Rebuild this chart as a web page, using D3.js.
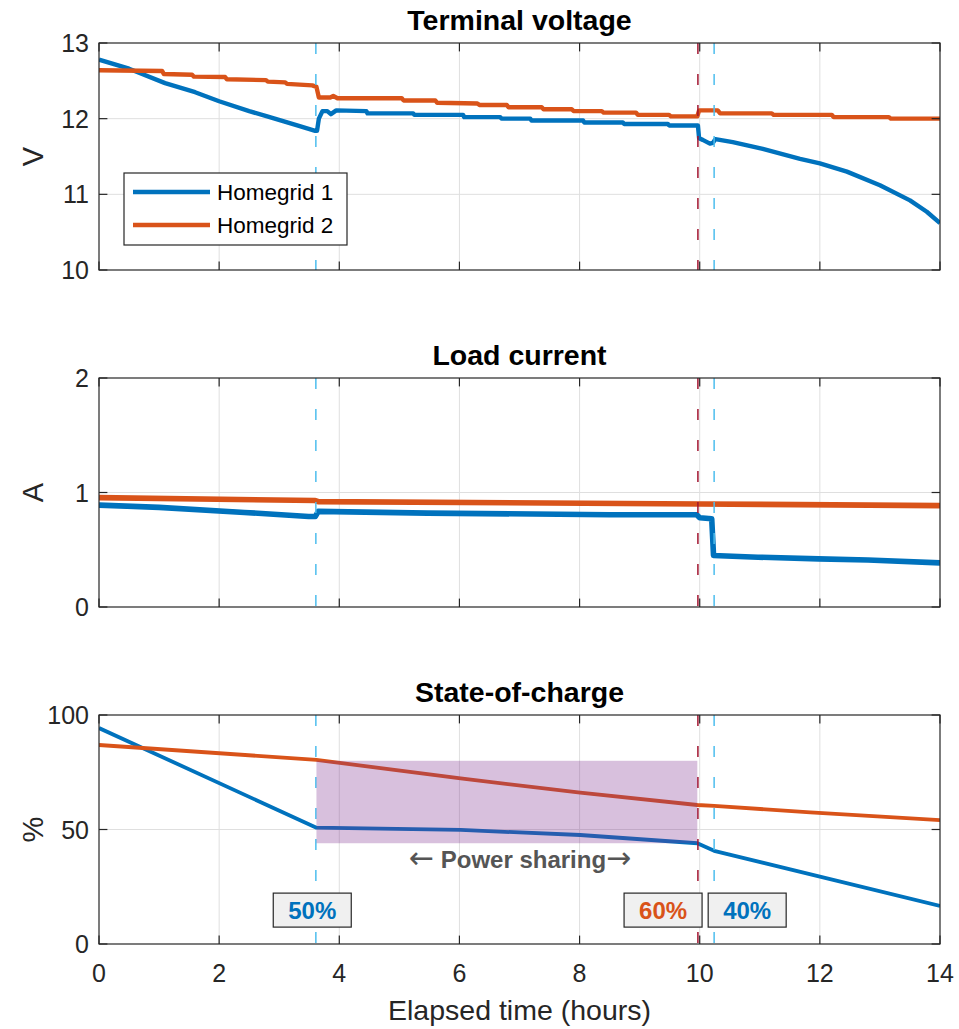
<!DOCTYPE html>
<html>
<head>
<meta charset="utf-8">
<script src="https://cdn.jsdelivr.net/npm/d3@7"></script>
<style>
  body { margin: 0; background: #fff; }
  text { font-family: "Liberation Sans", Arial, Helvetica, sans-serif; fill: #262626; }
</style>
</head>
<body>
<div id="main"></div>
<script>
// data (hours, value)

const voltage1 = [[0,12.78],[0.5,12.66],[1.1,12.47],[1.6,12.35],[2.0,12.23],[2.5,12.1],[2.8,12.03],[3.3,11.91],[3.6,11.84],[3.63,11.84],
  [3.66,12.0],[3.72,12.1],[3.8,12.1],[3.86,12.06],[3.95,12.11],[4.45,12.1],[4.47,12.07],[5.23,12.07],[5.25,12.05],[6.06,12.05],
  [6.08,12.02],[6.68,12.02],[6.7,12.0],[7.18,12.0],[7.2,11.975],[8.06,11.975],[8.08,11.95],[8.72,11.95],[8.74,11.93],[9.47,11.93],
  [9.49,11.91],[9.97,11.91],[9.99,11.74],[10.05,11.72],[10.17,11.67],[10.22,11.68],[10.26,11.73],[10.55,11.69],[11.05,11.6],
  [11.67,11.47],[12.0,11.41],[12.45,11.3],[13.0,11.12],[13.5,10.92],[13.78,10.77],[14,10.62]];

const voltage2 = [[0,12.64],[1.05,12.63],[1.08,12.59],[1.55,12.58],[1.58,12.555],[2.1,12.55],[2.13,12.52],[2.78,12.51],[2.81,12.49],
  [3.1,12.48],[3.13,12.46],[3.55,12.44],[3.62,12.42],[3.66,12.28],[3.85,12.28],[3.9,12.3],[3.97,12.27],[5.04,12.27],[5.07,12.24],
  [5.6,12.24],[5.63,12.21],[6.3,12.2],[6.34,12.18],[6.79,12.18],[6.82,12.15],[7.37,12.15],[7.4,12.125],[7.87,12.125],[7.9,12.1],
  [8.37,12.1],[8.4,12.08],[8.94,12.08],[8.97,12.05],[9.49,12.05],[9.52,12.03],[9.96,12.03],[9.99,12.11],[10.3,12.11],[10.34,12.07],
  [11.2,12.07],[11.23,12.05],[12.2,12.05],[12.23,12.02],[13.15,12.02],[13.18,12.0],[14,12.0]];

const current1 = [[0,0.89],[1.0,0.87],[2.42,0.826],[3.49,0.79],[3.6,0.79],[3.65,0.835],[5.47,0.82],[8.5,0.806],[9.95,0.806],
  [10.0,0.78],[10.2,0.77],[10.23,0.45],[10.97,0.435],[11.98,0.42],[12.8,0.41],[14,0.385]];

const current2 = [[0,0.955],[3.6,0.93],[3.65,0.92],[10,0.9],[14,0.885]];

const soc1 = [[0,94.3],[3.62,50.8],[6.02,49.8],[8.01,47.6],[9.96,44.0],[10.24,40.7],[14,16.6]];
const soc2 = [[0,86.9],[3.62,80.4],[6.02,72.3],[8.01,66.1],[9.96,60.7],[10.24,60.3],[11.84,57.5],[14,54.1]];

const cyanEvents = [3.61, 10.24];
const redEvents = [9.97];
const sharing = { x0: 3.62, x1: 9.96, y0: 44, y1: 80 };
const socLabels = [{ t: '50%', x: 3.55, y: 14.8, c: 'b' }, { t: '60%', x: 9.39, y: 14.8, c: 'o' }, { t: '40%', x: 10.79, y: 14.8, c: 'b' }];

const xTicks = [0, 2, 4, 6, 8, 10, 12, 14];
const legendNames = ['Homegrid 1', 'Homegrid 2'];

// colors
const blue = '#0072BD';
const orange = '#D95319';
const cyan = '#4DBEEE';
const darkred = '#A2142F';
const axisColor = '#262626';

const W = 959, H = 1029;
const left = 99, right = 940;

const panels = [
  { title: 'Terminal voltage', ylab: 'V', top: 43, bottom: 270, dom: [10, 13], ticks: [10, 11, 12, 13], s1: voltage1, s2: voltage2, lw: 4.4 },
  { title: 'Load current', ylab: 'A', top: 378, bottom: 607, dom: [0, 2], ticks: [0, 1, 2], s1: current1, s2: current2, lw: 5.6 },
  { title: 'State-of-charge', ylab: '%', top: 715, bottom: 944, dom: [0, 100], ticks: [0, 50, 100], s1: soc1, s2: soc2, lw: 3.8 }
];

const svg = d3.select('#main').append('svg')
  .attr('width', W).attr('height', H);

const x = d3.scaleLinear().domain([0, 14]).range([left, right]);

panels.forEach((p, i) => {
  const y = d3.scaleLinear().domain(p.dom).range([p.bottom, p.top]);
  const g = svg.append('g');

  g.append('clipPath').attr('id', 'clip' + i)
    .append('rect').attr('x', left).attr('y', p.top).attr('width', right - left).attr('height', p.bottom - p.top);

  // grid
  g.selectAll('.gx').data(xTicks.slice(1, -1)).enter().append('line')
    .attr('x1', d => x(d)).attr('x2', d => x(d)).attr('y1', p.top).attr('y2', p.bottom)
    .attr('stroke', '#dfdfdf').attr('stroke-width', 1);
  g.selectAll('.gy').data(p.ticks.slice(1, -1)).enter().append('line')
    .attr('x1', left).attr('x2', right).attr('y1', d => y(d)).attr('y2', d => y(d))
    .attr('stroke', '#dfdfdf').attr('stroke-width', 1);

  const line = d3.line().x(d => x(d[0])).y(d => y(d[1]));
  const plot = g.append('g').attr('clip-path', `url(#clip${i})`);

  plot.append('path').datum(p.s1).attr('d', line)
    .attr('fill', 'none').attr('stroke', blue).attr('stroke-width', p.lw).attr('stroke-linejoin', 'round');
  plot.append('path').datum(p.s2).attr('d', line)
    .attr('fill', 'none').attr('stroke', orange).attr('stroke-width', p.lw).attr('stroke-linejoin', 'round');

  // event lines
  plot.selectAll('.ce').data(cyanEvents).enter().append('line')
    .attr('x1', d => x(d)).attr('x2', d => x(d)).attr('y1', p.top).attr('y2', p.bottom)
    .attr('stroke', cyan).attr('stroke-width', 1.5).attr('stroke-dasharray', '11,20');
  plot.selectAll('.re').data(redEvents).enter().append('line')
    .attr('x1', d => x(d)).attr('x2', d => x(d)).attr('y1', p.top).attr('y2', p.bottom)
    .attr('stroke', darkred).attr('stroke-width', 1.5).attr('stroke-dasharray', '11,20');

  if (i === 2) {
    plot.append('rect')
      .attr('x', x(sharing.x0)).attr('y', y(sharing.y1))
      .attr('width', x(sharing.x1) - x(sharing.x0)).attr('height', y(sharing.y0) - y(sharing.y1))
      .attr('fill', '#7E2F8E').attr('fill-opacity', 0.3);

    const ps = g.append('text').attr('x', x(7.01)).attr('y', y(36.7) + 8)
      .attr('text-anchor', 'middle').style('font-size', '24px').style('fill', '#555555');
    ps.append('tspan').style('font-size', '30px').style('font-family', 'DejaVu Sans').text('\u2190');
    ps.append('tspan').style('font-weight', 'bold').text(' Power sharing');
    ps.append('tspan').style('font-size', '30px').style('font-family', 'DejaVu Sans').text('\u2192');

    const lab = g.selectAll('.lab').data(socLabels).enter().append('g')
      .attr('transform', d => `translate(${x(d.x)},${y(d.y)})`);
    lab.append('rect').attr('x', -39).attr('y', -17).attr('width', 78).attr('height', 34)
      .attr('fill', '#f0f0f0').attr('stroke', axisColor).attr('stroke-width', 1.2);
    lab.append('text').attr('text-anchor', 'middle').attr('y', 9)
      .style('font-size', '24px').style('font-weight', 'bold')
      .style('fill', d => d.c === 'b' ? blue : orange)
      .text(d => d.t);
  }

  // box + ticks
  g.append('rect').attr('x', left).attr('y', p.top).attr('width', right - left).attr('height', p.bottom - p.top)
    .attr('fill', 'none').attr('stroke', axisColor).attr('stroke-width', 1.2);
  const tl = 8.4;
  xTicks.forEach(t => {
    g.append('line').attr('x1', x(t)).attr('x2', x(t)).attr('y1', p.bottom).attr('y2', p.bottom - tl)
      .attr('stroke', axisColor).attr('stroke-width', 1.2);
    g.append('line').attr('x1', x(t)).attr('x2', x(t)).attr('y1', p.top).attr('y2', p.top + tl)
      .attr('stroke', axisColor).attr('stroke-width', 1.2);
  });
  p.ticks.forEach(t => {
    g.append('line').attr('x1', left).attr('x2', left + tl).attr('y1', y(t)).attr('y2', y(t))
      .attr('stroke', axisColor).attr('stroke-width', 1.2);
    g.append('line').attr('x1', right).attr('x2', right - tl).attr('y1', y(t)).attr('y2', y(t))
      .attr('stroke', axisColor).attr('stroke-width', 1.2);
    g.append('text').attr('x', left - 10).attr('y', y(t) + 9).attr('text-anchor', 'end')
      .style('font-size', '25px').text(t);
  });

  g.append('text').attr('x', (left + right) / 2).attr('y', p.top - 13).attr('text-anchor', 'middle')
    .style('font-size', '28.5px').style('font-weight', 'bold').style('fill', '#000').text(p.title);

  g.append('text').attr('transform', `translate(43,${(p.top + p.bottom) / 2}) rotate(-90)`)
    .attr('text-anchor', 'middle').style('font-size', '29px').text(p.ylab);

  if (i === 0) {
    const lg = g.append('g');
    lg.append('rect').attr('x', 124).attr('y', 173).attr('width', 223).attr('height', 72)
      .attr('fill', '#fff').attr('stroke', axisColor).attr('stroke-width', 1.2);
    legendNames.forEach((n, k) => {
      const yy = 192 + k * 33;
      lg.append('line').attr('x1', 133).attr('x2', 210).attr('y1', yy).attr('y2', yy)
        .attr('stroke', k === 0 ? blue : orange).attr('stroke-width', 4.4);
      lg.append('text').attr('x', 217).attr('y', yy + 8).style('font-size', '22.5px').style('fill', '#000').text(n);
    });
  }

  if (i === 2) {
    xTicks.forEach(t => {
      g.append('text').attr('x', x(t)).attr('y', p.bottom + 38).attr('text-anchor', 'middle')
        .style('font-size', '25px').text(t);
    });
    g.append('text').attr('x', (left + right) / 2).attr('y', p.bottom + 76).attr('text-anchor', 'middle')
      .style('font-size', '28.5px').text('Elapsed time (hours)');
  }
});
</script>
</body>
</html>
